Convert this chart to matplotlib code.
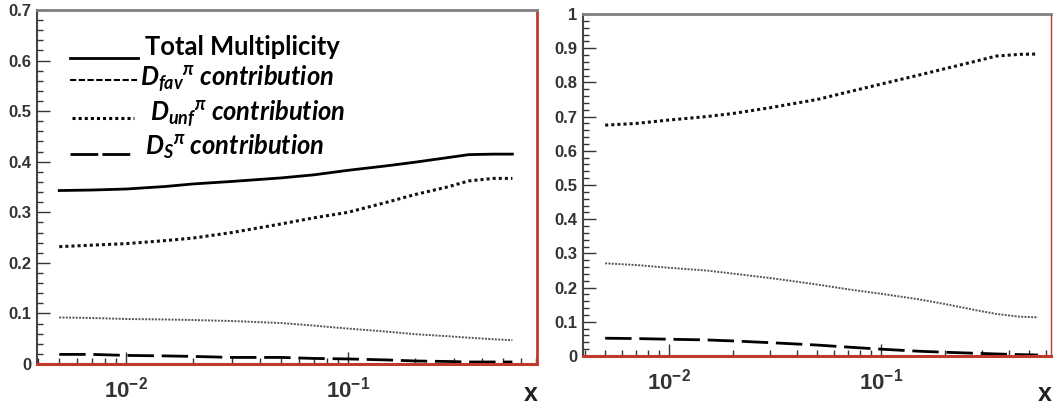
import matplotlib
matplotlib.use("Agg")
import matplotlib.pyplot as plt
from matplotlib.lines import Line2D
from matplotlib.ticker import (MultipleLocator, LogLocator, FixedLocator,
                               NullFormatter, FuncFormatter)

plt.rcParams['mathtext.fontset'] = 'custom'
plt.rcParams['mathtext.rm'] = 'Liberation Sans:bold'
plt.rcParams['mathtext.bf'] = 'Liberation Sans:bold'
plt.rcParams['mathtext.it'] = 'Lato:bold:italic'
plt.rcParams['mathtext.default'] = 'it'

# ---------------- data ----------------
x_grid = [0.005, 0.007, 0.01, 0.015, 0.02, 0.03, 0.05, 0.07, 0.1, 0.15,
          0.2, 0.28, 0.35, 0.45, 0.55]

left_total = [0.343, 0.344, 0.346, 0.351, 0.356, 0.361, 0.368, 0.374, 0.383,
              0.392, 0.399, 0.408, 0.414, 0.415, 0.415]
left_fav = [0.232, 0.235, 0.238, 0.244, 0.249, 0.260, 0.277, 0.289, 0.300,
            0.320, 0.335, 0.350, 0.362, 0.367, 0.367]
left_unf = [0.092, 0.091, 0.089, 0.088, 0.087, 0.085, 0.081, 0.076, 0.070,
            0.064, 0.059, 0.055, 0.052, 0.049, 0.047]
left_ds = [0.019, 0.019, 0.017, 0.016, 0.015, 0.013, 0.013, 0.011, 0.010,
           0.008, 0.006, 0.005, 0.004, 0.004, 0.004]

right_fav = [0.675, 0.680, 0.690, 0.700, 0.709, 0.726, 0.750, 0.772, 0.795,
             0.821, 0.840, 0.862, 0.877, 0.882, 0.883]
right_unf = [0.271, 0.266, 0.258, 0.250, 0.241, 0.228, 0.209, 0.195, 0.182,
             0.166, 0.152, 0.134, 0.123, 0.115, 0.113]
right_ds = [0.052, 0.051, 0.049, 0.047, 0.044, 0.039, 0.032, 0.026, 0.020,
            0.014, 0.011, 0.008, 0.006, 0.004, 0.003]

legend_labels = ["Total Multiplicity",
                 r"$D_{fav}{}^{\pi}$ contribution",
                 r"$D_{unf}{}^{\pi}$ contribution",
                 r"$D_{S}{}^{\pi}$ contribution"]
xtick_vals = [0.01, 0.1]
xtick_labels = [r"$\mathbf{10^{-2}}$", r"$\mathbf{10^{-1}}$"]

# ---------------- styles ----------------
RED = '#c0392b'
sty_total = dict(color='black', lw=2.0, ls='-')
sty_fav = dict(color='#111111', lw=2.2, ls=(0, (1, 1)))
sty_unf = dict(color='#555555', lw=1.4, ls=(0, (1, 0.7)))
sty_ds = dict(color='black', lw=2.0, ls=(0, (9.5, 2.8)))

W, H = 1062, 412
fig = plt.figure(figsize=(W / 100, H / 100), dpi=100)


def px_ax(x0, y0, x1, y1):
    return fig.add_axes([x0 / W, 1 - y1 / H, (x1 - x0) / W, (y1 - y0) / H])


axL = px_ax(37, 10, 537, 364)
axR = px_ax(583, 14, 1051, 356)


def fmt_y(v, pos):
    if abs(v) < 1e-9:
        return '0'
    if abs(v - 1) < 1e-9:
        return '1'
    return f'{v:.1f}'


def style(ax, ymax, right_red_lw):
    ax.set_xscale('log')
    ax.set_ylim(0, ymax)
    ax.yaxis.set_major_locator(MultipleLocator(0.1))
    ax.yaxis.set_minor_locator(MultipleLocator(0.02))
    ax.yaxis.set_major_formatter(FuncFormatter(fmt_y))
    ax.xaxis.set_major_locator(FixedLocator(xtick_vals))
    ax.xaxis.set_minor_locator(LogLocator(base=10, subs=range(2, 10)))
    ax.xaxis.set_minor_formatter(NullFormatter())
    ax.set_xticklabels(xtick_labels)
    ax.tick_params(axis='both', which='both', direction='in', top=False, right=False,
                   colors='#333333', labelcolor='#333333', width=1.0)
    ax.tick_params(axis='y', which='major', length=9, labelsize=12, pad=4)
    ax.tick_params(axis='y', which='minor', length=4.5)
    ax.tick_params(axis='x', which='major', length=9, labelsize=16, pad=8)
    ax.tick_params(axis='x', which='minor', length=4.5)
    for lab in ax.get_yticklabels():
        lab.set_fontfamily('Liberation Sans')
        lab.set_fontweight('bold')
    ax.spines['top'].set_color('#808080')
    ax.spines['top'].set_linewidth(2.0)
    ax.spines['left'].set_color('#444444')
    ax.spines['left'].set_linewidth(1.5)
    ax.spines['bottom'].set_color(RED)
    ax.spines['bottom'].set_linewidth(2.2)
    ax.spines['right'].set_color(RED)
    ax.spines['right'].set_linewidth(right_red_lw)


axL.plot(x_grid, left_total, **sty_total)
axL.plot(x_grid, left_fav, **sty_fav)
axL.plot(x_grid, left_unf, **sty_unf)
axL.plot(x_grid, left_ds, **sty_ds)
axL.set_xlim(0.00397, 0.71)
style(axL, 0.7, 2.0)

axR.plot(x_grid, right_fav, **sty_fav)
axR.plot(x_grid, right_unf, **sty_unf)
axR.plot(x_grid, right_ds, **sty_ds)
axR.set_xlim(0.00393, 0.634)
style(axR, 1.0, 1.0)

# x labels
for xp in (531, 1045):
    fig.text(xp / W, 1 - 401 / H, 'x', fontsize=18, fontweight='bold',
             family='Liberation Sans', ha='center', va='baseline', color='#222222')


# legend (hand placed, as in the original)
def fline(x0, x1, y, **kw):
    fig.add_artist(Line2D([x0 / W, x1 / W], [1 - y / H, 1 - y / H],
                          transform=fig.transFigure, **kw))


fline(70, 138, 58, color='black', lw=2.0)
fline(70, 137, 80, color='black', lw=1.5, ls=(0, (3, 1.2)))
fline(72, 134, 118, color='black', lw=2.2, ls=(0, (1, 1)))
fline(70, 131, 154, color='black', lw=2.0, ls=(0, (10, 1.5)))

leg_pos = [(145, 55), (140, 86), (150, 121), (145, 155)]
for i, (lab, (lx, ly)) in enumerate(zip(legend_labels, leg_pos)):
    fig.text(lx / W, 1 - ly / H, lab, fontsize=18.4, family='Lato',
             fontweight='bold', fontstyle='normal' if i == 0 else 'italic',
             ha='left', va='baseline', color='black')

fig.savefig('out.png', dpi=100)
